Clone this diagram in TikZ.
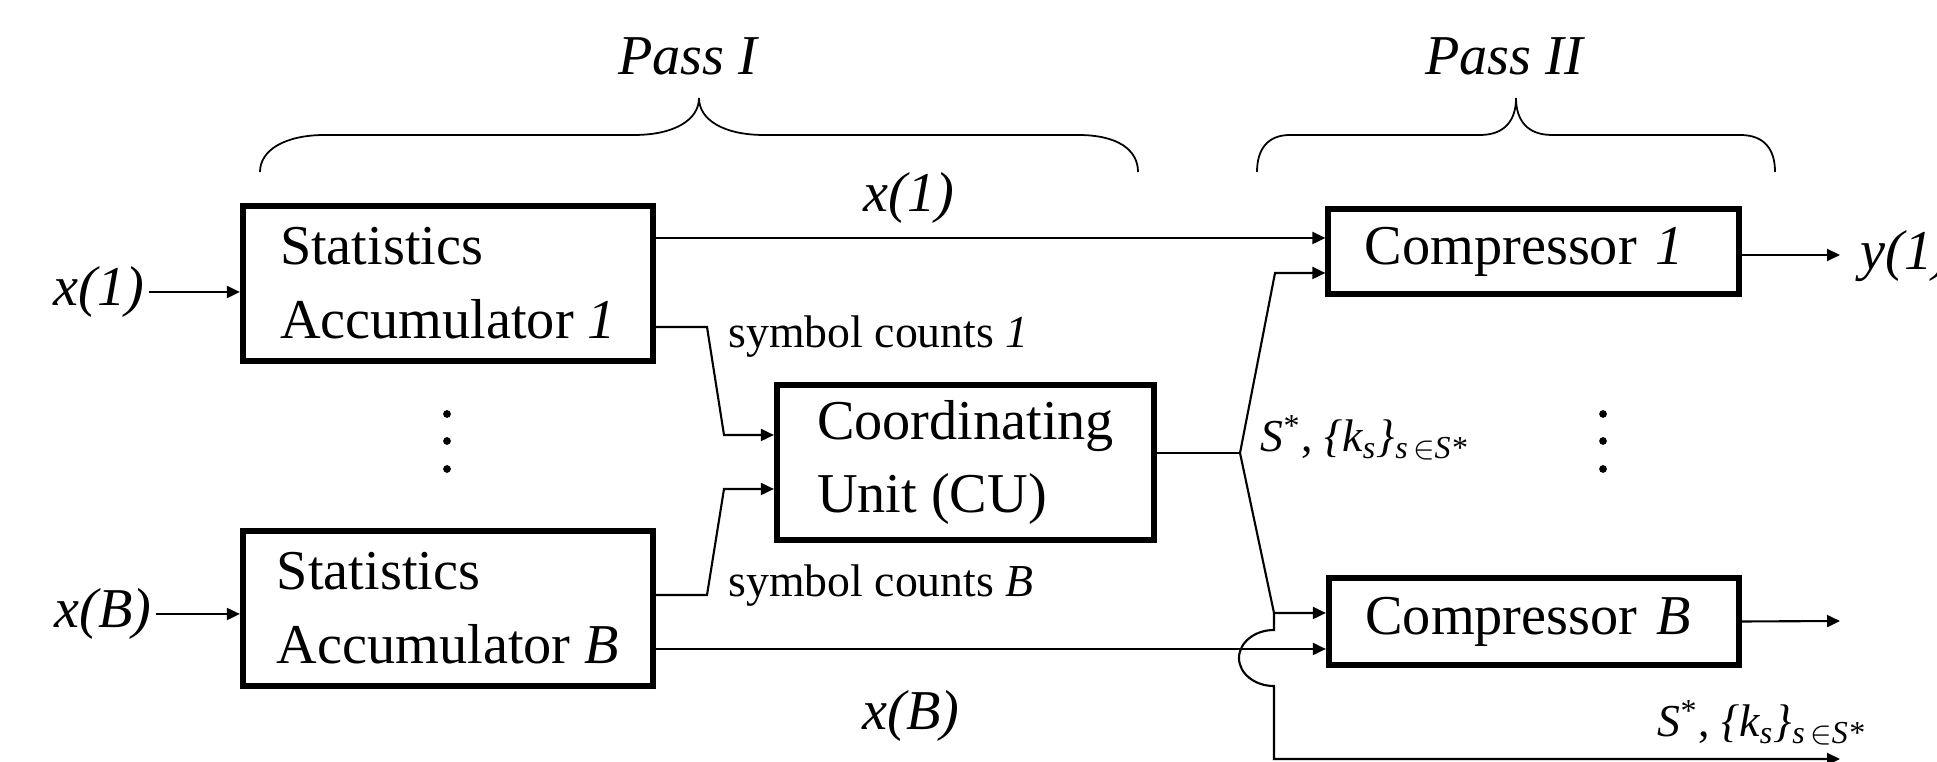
\documentclass[tikz,border=0pt]{standalone}
\usepackage{fontspec}
\setmainfont{Liberation Serif}
\usetikzlibrary{arrows.meta}

\begin{document}
\begin{tikzpicture}[x=0.01cm,y=-0.01cm,
    blk/.style={draw,line width=1.7pt,inner sep=0pt,align=left,font=\fontsize{16}{21}\selectfont},
    lbl/.style={font=\fontsize{16}{21}\selectfont\itshape,inner sep=1pt},
    small/.style={font=\fontsize{13}{15}\selectfont,inner sep=0pt},
    wire/.style={line width=0.6pt},
    con/.style={line width=0.6pt,-{Triangle[length=3.7pt,width=3.4pt]}}]
        \useasboundingbox (0,0) rectangle (1937,762);
        % blocks
        \node[blk,minimum width=4.1cm,minimum height=1.55cm] (sa1) at (448,283.5) {Statistics\\Accumulator \textit{1}};
        \node[blk,minimum width=4.1cm,minimum height=1.55cm] (sab) at (448,608.5) {Statistics\\Accumulator \textit{B}};
        \node[blk,minimum width=3.77cm,minimum height=1.55cm] (cu) at (965.5,462.5) {Coordinating\\Unit (CU)};
        \node[blk,minimum width=4.1cm,minimum height=0.84cm,text width=3.37cm] (c1) at (1533.5,251.5) {Compressor \textit{1}};
        \node[blk,minimum width=4.1cm,minimum height=0.87cm,text width=3.37cm] (cB) at (1534,621.5) {Compressor \textit{B}};

        % lecter
        \node[lbl] (p1) at (688,56) {Pass I};
        \node[lbl] (p2) at (1504,56) {Pass II};
        \node[lbl] (x1in) at (99,292) {x(1)};
        \node[lbl] (xBin) at (103,614) {x(B)};
        \node[lbl] (lx1) at (909,198) {x(1)};
        \node[lbl] (lxB) at (911,716) {x(B)};
        \node[small,anchor=west] (sc1) at (728,337) {symbol counts \textit{1}};
        \node[small,anchor=west] (scB) at (728,586) {symbol counts \textit{B}};
        \node[small,anchor=base west] (sk1) at (1260,452) {\textit{S}\textsuperscript{*}, \textit{\{k\textsubscript{s}\}\textsubscript{s\,$\in$S*}}};
        \node[small,anchor=base west] (sk2) at (1657,737) {\textit{S}\textsuperscript{*}, \textit{\{k\textsubscript{s}\}\textsubscript{s\,$\in$S*}}};
        \node[lbl,anchor=base west,inner sep=0pt] (y1) at (1860,270) {y(1)};

        % braces
        \draw[line width=0.5pt] (260,172) .. controls (260,150) and (285,135) .. (325,135) -- (634,135) .. controls (674,135) and (699,120) .. (699,98)
            .. controls (699,120) and (724,135) .. (764,135) -- (1078,135) .. controls (1118,135) and (1138,150) .. (1138,172);
        \draw[line width=0.5pt] (1257,172) .. controls (1257,150) and (1267,135) .. (1290,135) -- (1480,135) .. controls (1505,135) and (1516,120) .. (1516,98)
            .. controls (1516,120) and (1527,135) .. (1552,135) -- (1740,135) .. controls (1765,135) and (1775,150) .. (1775,172);

        % line
        \coordinate (r1) at (1325,238);
        \coordinate (rB) at (1326,649);
        \coordinate (s1a) at (707,327);
        \coordinate (s1b) at (724,435);
        \coordinate (sBa) at (707,595);
        \coordinate (sBb) at (724,489);
        \coordinate (fork) at (1240,453);
        \coordinate (j1) at (1275,273);
        \coordinate (jB) at (1274,613);
        \coordinate (hop) at (1274,630);
        \coordinate (low) at (1274,759);
        \coordinate (tail) at (1840,759);
        \coordinate (o1) at (1840,255);
        \coordinate (oB) at (1840,621);

        \draw[con] (x1in) -- (x1in -| sa1.west);
        \draw[con] (xBin) -- (xBin -| sab.west);
        \draw[con] (sa1.east |- r1) -- (r1 -| c1.west);
        \draw[con] (sab.east |- rB) -- (rB -| cB.west);
        \draw[con] (sa1.east |- s1a) -- (s1a) -- (s1b) -- (s1b -| cu.west);
        \draw[con] (sab.east |- sBa) -- (sBa) -- (sBb) -- (sBb -| cu.west);
        \draw[wire] (cu.east |- fork) -- (fork);
        \draw[con] (fork) -- (j1) -- (j1 -| c1.west);
        \draw[con] (fork) -- (jB) -- (jB -| cB.west);
        \draw[con] (jB) -- (hop) arc[start angle=90,end angle=270,x radius=0.35cm,y radius=0.28cm] -- (low) -- (tail);
        \draw[con] (c1.east |- o1) -- (o1);
        \draw[con] (cB.east) -- (oB);

        % dots
        \foreach \y in {414,441,469} {
            \fill (447,\y) circle (1.1pt);
            \fill (1603,\y) circle (1.1pt);
        }
    \end{tikzpicture}
\end{document}
